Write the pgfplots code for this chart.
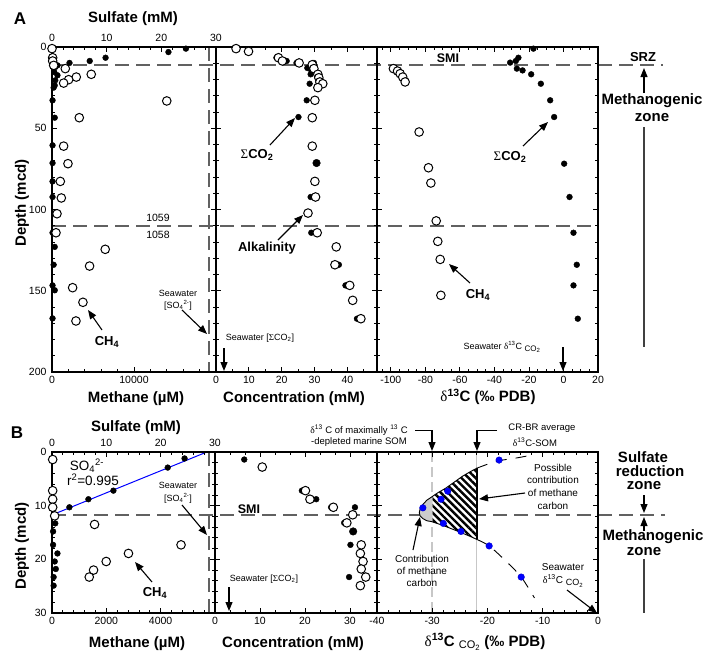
\documentclass[border=0pt]{standalone}
\usepackage{pgfplots}
\pgfplotsset{compat=1.18}
\usepackage{fontspec}
\setmainfont{Liberation Sans}
\newfontfamily\serif{Liberation Serif}
\usetikzlibrary{arrows.meta,patterns.meta}
\definecolor{dgray}{gray}{0.38}
\definecolor{lgray}{gray}{0.78}
\definecolor{tipgray}{gray}{0.8}
\definecolor{pblue}{RGB}{0,0,255}
\newcommand\fL{\fontsize{15}{17}\selectfont\bfseries}
\newcommand\fM{\fontsize{13}{15}\selectfont\bfseries}
\newcommand\fS{\fontsize{9}{10.5}\selectfont}
\newcommand\fA{\fontsize{10}{12.7}\selectfont}
\newcommand\cosub[1]{\raisebox{-2.5pt}{\fontsize{#1}{#1}\selectfont CO\textsubscript{2}}}
\pgfplotsset{
  base/.style={scale only axis, clip=false, y dir=reverse, axis on top,
    anchor=north west, tick align=inside, scaled x ticks=false, scaled y ticks=false,
    axis line style={line width=1.1pt},
    tick style={black, line width=0.8pt},
    major tick length=5pt, minor tick length=3pt,
    tick label style={font=\fontsize{10.5}{12}\selectfont},
    xtick pos=both, ytick pos=both, yticklabels={}},
  Aax/.style={height=325pt, ymin=0, ymax=200, ytick={0,50,100,150,200}, minor y tick num=4},
  Bax/.style={height=161pt, ymin=0, ymax=30, ytick={0,10,20,30}, minor y tick num=4},
  fdot/.style={only marks, mark=*, mark size=2.9pt, black},
  odot/.style={only marks, mark=*, mark size=4.3pt, mark options={fill=white, draw=black, line width=1pt}},
  bdot/.style={only marks, mark=*, mark size=3.3pt, mark options={fill=pblue, draw=pblue!80!black, line width=0.4pt}},
}
\tikzset{arr/.style={line width=1.1pt, -{Triangle[length=9pt,width=7pt]}},
  dl/.style={dgray, line width=2pt, dash pattern=on 14pt off 7pt}}
\begin{document}
\begin{tikzpicture}
\useasboundingbox (0,0) rectangle (705pt,-667pt);
% reference dashed lines
\draw[dl] (52pt,-64.5pt) -- (663pt,-64.5pt);
\draw[dl] (52pt,-226pt) -- (598pt,-226pt);
\draw[dl] (209.4pt,-47pt) -- (209.4pt,-372pt);
\draw[dl] (52pt,-515pt) -- (665pt,-515pt);
\draw[dl] (208.5pt,-452pt) -- (208.5pt,-613pt);

% ================= PANEL A =================
\begin{axis}[base, Aax, at={(52pt,-47pt)}, width=164pt,
  xmin=0, xmax=30, xtick={0,10,20,30}, xticklabels={0,10,20,30}, minor x tick num=4,
  xtick pos=right, xticklabel pos=right, xticklabel style={yshift=2pt},
  yticklabels={0,50,100,150,200}, yticklabel style={xshift=-2pt}]
\addplot[fdot] coordinates {(24.5,1.0) (21.3,3.1) (9.8,6.6) (6.9,8.6) (3.2,9.8) (1.0,11.3) (0.6,12.3) (0.4,15.4) (1.0,17.4) (0.6,20.5) (0.5,23.6) (0.3,25.0) (0.1,32.8) (0.5,43.5) (0.1,60.5) (0.1,71.4) (0.1,82.7) (0.1,92.3) (0.1,114.3) (0.5,123) (0.3,134) (0.1,146.7) (0.5,149.7) (0.1,167)};
\end{axis}
\begin{axis}[base, Aax, at={(52pt,-47pt)}, width=164pt, ytick=\empty,
  xmin=0, xmax=20000, xtick={0,10000,20000}, xticklabels={0,10000,}, minor x tick num=4,
  xtick pos=left, xticklabel style={yshift=-1pt}]
\addplot[odot] coordinates {(0,1.0) (81,6.6) (81,8.6) (203,11.3) (1623,13.3) (4787,16.8) (2962,18.5) (2029,20.1) (1420,22.2) (13997,33.2) (3327,43.5) (1420,61) (1947,71.8) (1014,82.7) (1136,92.9) (609,102.6) (487,114.3) (6491,124.5) (4584,134.8) (2515,148.1) (3773,157.1) (2921,168.6)};
\end{axis}
\begin{axis}[base, Aax, at={(216pt,-47pt)}, width=161pt,
  xmin=0, xmax=49, xtick={0,10,20,30,40}, xticklabels={0,10,20,30,40}, minor xtick={5,15,25,35,45},
  xticklabel style={yshift=-1pt}]
\addplot[fdot] coordinates {(5.9,1.0) (18.4,6.6) (21.5,8.6) (24.5,9.8) (29.8,9.8) (27.8,12.9) (29.0,14.4) (30.0,13.7) (28.8,16.8) (28.5,22.6) (27.6,32.8) (25.1,43.1) (28.8,92.3) (29.0,114.3) (37.4,134) (39.4,146.7) (42.9,167.2)};
\addplot[fdot, mark size=3.8pt] coordinates {(30.6,71.4)};
\addplot[odot] coordinates {(6.1,1.0) (9.9,2.7) (19.0,6.6) (20.2,8.6) (25.3,9.8) (29.3,10.9) (29.8,13.3) (31.0,16.8) (31.3,18.9) (31.6,21.5) (32.5,22.6) (31.0,25.0) (30.1,32.8) (29.3,43.5) (29.3,61.0) (30.1,82.7) (30.3,92.3) (28.0,102.2) (30.8,114.3) (36.6,123) (36.2,134) (40.7,146.7) (41.6,155.9) (44.1,167.2)};
\end{axis}
\begin{axis}[base, Aax, at={(377pt,-47pt)}, width=221pt,
  xmin=-108, xmax=20, xtick={-100,-80,-60,-40,-20,0,20}, xticklabels={-100,-80,-60,-40,-20,0,20},
  minor xtick={-105,-95,-90,-85,-75,-70,-65,-55,-50,-45,-35,-30,-25,-15,-10,-5,5,10,15},
  xticklabel style={yshift=-1pt}]
\addplot[odot] coordinates {(-98.5,13.3) (-96.1,14.8) (-94.6,16.4) (-93.1,18.5) (-91.7,21.5) (-83.6,52.3) (-78.2,74.3) (-76.8,83.7) (-73.7,107) (-72.8,119.6) (-71.4,130.7) (-71.0,152.8)};
\addplot[fdot] coordinates {(-17.4,1.0) (-30.9,9.6) (-27.6,8.6) (-26.1,6.6) (-27.0,13.3) (-23.7,14.4) (-18.7,16.8) (-13.1,22.6) (-7.7,32.8) (-5.4,43.1) (0.4,71.8) (3.5,92.3) (5.8,114.3) (7.7,134) (5.8,146.7) (8.3,167.2)};
\end{axis}

% ================= PANEL B =================
\begin{axis}[base, Bax, at={(52pt,-452pt)}, width=163pt,
  xmin=0, xmax=30, xtick={0,10,20,30}, xticklabels={0,10,20,30}, minor x tick num=4,
  xtick pos=right, xticklabel pos=right, xticklabel style={yshift=2pt},
  yticklabels={0,10,20,30}, yticklabel style={xshift=-2pt}]
\addplot[pblue, line width=1pt] coordinates {(0.3,11.6) (28.5,0)};
\addplot[fdot] coordinates {(24.4,1.2) (21.3,2.9) (11.3,7.2) (6.7,8.8) (3.2,10.3) (0.6,13.3) (0.2,14.8) (0.2,17.3) (1.0,18.9) (0.5,20.4) (0.7,21.8) (0.3,23.3) (0.3,24.9)};
\end{axis}
\begin{axis}[base, Bax, at={(52pt,-452pt)}, width=163pt, ytick=\empty,
  xmin=0, xmax=6000, xtick={0,2000,4000,6000}, xticklabels={0,2000,4000,}, minor x tick num=4,
  xtick pos=left, xticklabel style={yshift=-1pt}]
\addplot[odot] coordinates {(25,1.4) (25,7.2) (25,8.8) (25,10.3) (98,11.9) (1567,13.5) (4750,17.3) (2815,18.9) (1995,20.4) (1530,22.0) (1371,23.3)};
\end{axis}
\begin{axis}[base, Bax, at={(215pt,-452pt)}, width=162pt,
  xmin=0, xmax=36, xtick={0,10,20,30}, xticklabels={0,10,20,30},
  minor xtick={3.33,6.67,13.33,16.67,23.33,26.67,33.33}, xticklabel style={yshift=-1pt}]
\addplot[fdot] coordinates {(6.5,1.4) (19.3,7.2) (22.5,8.8) (25.8,10.3) (31.1,10.3) (28.7,13.2) (30.1,17.3) (29.8,23.3)};
\addplot[fdot, mark size=3.8pt] coordinates {(30.7,14.8)};
\addplot[odot] coordinates {(10.5,2.8) (20.1,7.2) (21.1,8.8) (26.3,10.3) (30.6,11.7) (29.3,13.2) (32.5,17.3) (32.3,18.9) (32.9,20.4) (32.5,21.8) (33.5,23.3) (32.3,24.9)};
\end{axis}
\begin{axis}[base, Bax, at={(377pt,-452pt)}, width=221pt,
  xmin=-40, xmax=0, xtick={-40,-30,-20,-10,0}, xticklabels={-40,-30,-20,-10,0}, minor x tick num=4,
  xticklabel style={yshift=-1pt}]
\draw[lgray, line width=1.8pt, dash pattern=on 10pt off 5pt] (axis cs:-30,0) -- (axis cs:-30,30);
\draw[lgray, line width=1.8pt] (axis cs:-22,0) -- (axis cs:-22,30);
\addplot[draw=none, fill=white] coordinates {(-21.9,3.0) (-23,3.6) (-24.5,4.5) (-26,5.6) (-27.5,6.7) (-29,7.6) (-30,8.3) (-30,13.0) (-29,13.35) (-28,13.7) (-26.4,14.35) (-24.8,15.0) (-23.3,15.65) (-21.9,16.3)} -- cycle;
\addplot[draw=none, pattern={Lines[angle=-45,distance=5pt,line width=2.4pt]}, pattern color=black] coordinates {(-21.9,3.0) (-23,3.6) (-24.5,4.5) (-26,5.6) (-27.5,6.7) (-29,7.6) (-30,8.3) (-30,13.0) (-29,13.35) (-28,13.7) (-26.4,14.35) (-24.8,15.0) (-23.3,15.65) (-21.9,16.3)} -- cycle;
\addplot[draw=none, fill=tipgray] coordinates {(-30,8.3) (-31,9.0) (-31.8,9.9) (-32.2,10.6) (-32.35,11.3) (-32.2,11.9) (-31.7,12.4) (-31,12.8) (-30,13.0)} -- cycle;
\addplot[black, line width=0.9pt, line join=round] coordinates {(-21.9,3.0) (-23,3.6) (-24.5,4.5) (-26,5.6) (-27.5,6.7) (-29,7.6) (-30,8.3) (-31,9.0) (-31.8,9.9) (-32.2,10.6) (-32.35,11.3) (-32.2,11.9) (-31.7,12.4) (-31,12.8) (-30,13.0) (-29,13.35) (-28,13.7) (-26.4,14.35) (-24.8,15.0) (-23.3,15.65) (-21.9,16.3)};
\addplot[black, line width=1.6pt] coordinates {(-21.9,3.0) (-21.9,16.3)};
\addplot[black, line width=0.9pt, dash pattern=on 11pt off 9pt, smooth] coordinates {(-21.9,3.0) (-19.5,2.1) (-17.5,1.55) (-14.7,1.1) (-11.8,0.55)};
\addplot[black, line width=0.9pt, dash pattern=on 11pt off 9pt, smooth] coordinates {(-21.9,16.3) (-19.7,17.5) (-16.8,20.2) (-13.9,23.3) (-11.5,27.2)};
\addplot[bdot] coordinates {(-17.9,1.5) (-27.2,7.3) (-28.4,8.8) (-31.7,10.4) (-28.0,13.3) (-24.8,14.8) (-19.7,17.5) (-13.9,23.3)};
\end{axis}

% ================= LABELS A =================
\node[font=\fontsize{17}{19}\selectfont\bfseries] at (20pt,-19pt) {A};
\node[font=\fL] at (133pt,-19pt) {Sulfate (mM)};
\node[font=\fL, rotate=90] at (22pt,-203pt) {Depth (mcd)};
\node[font=\fL] at (136pt,-399pt) {Methane (µM)};
\node[font=\fL] at (294pt,-399pt) {Concentration (mM)};
\node[font=\fL] at (488pt,-397pt) {{\serif\mdseries δ}\textsuperscript{13}C (‰ PDB)};
\node[font=\fontsize{10.5}{12}\selectfont] at (158pt,-218pt) {1059};
\node[font=\fontsize{10.5}{12}\selectfont] at (158pt,-235pt) {1058};
\node[font=\fS] at (178pt,-293pt) {Seawater};
\node[font=\fS] at (178pt,-305pt) {[SO\textsubscript{4}\textsuperscript{2-}]};
\draw[arr] (182pt,-310pt) -- (207pt,-334pt);
\node[font=\fM] at (107pt,-342pt) {CH\textsubscript{4}};
\draw[arr] (102pt,-330pt) -- (88pt,-310pt);
\node[font=\fM] at (257pt,-155pt) {{\serif\mdseries Σ}CO\textsubscript{2}};
\draw[arr] (270pt,-145pt) -- (295pt,-118pt);
\node[font=\fM] at (267pt,-248pt) {Alkalinity};
\draw[arr] (278pt,-240pt) -- (303pt,-215pt);
\node[font=\fS] at (260pt,-338pt) {Seawater [{\serif Σ}CO\textsubscript{2}]};
\draw[arr] (224pt,-348pt) -- (224pt,-371pt);
\node[font=\fontsize{12.5}{14}\selectfont\bfseries] at (448pt,-58pt) {SMI};
\node[font=\fM] at (510pt,-157pt) {{\serif\mdseries Σ}CO\textsubscript{2}};
\draw[arr] (523pt,-146pt) -- (548pt,-122pt);
\node[font=\fM] at (478pt,-295pt) {CH\textsubscript{4}};
\draw[arr] (470pt,-283pt) -- (449pt,-264pt);
\node[font=\fS] at (502pt,-347pt) {Seawater {\serif δ}\textsuperscript{13}C \cosub{8}};
\draw[arr] (563pt,-347pt) -- (563pt,-371pt);
\node[font=\fM] at (643pt,-57pt) {SRZ};
\draw[arr] (644pt,-93pt) -- (644pt,-68pt);
\node[font=\fL] at (652pt,-101pt) {Methanogenic};
\node[font=\fL] at (652pt,-118pt) {zone};
\draw[black!75, line width=1.3pt] (644pt,-127pt) -- (644pt,-347pt);

% ================= LABELS B =================
\node[font=\fontsize{17}{19}\selectfont\bfseries] at (17pt,-433pt) {B};
\node[font=\fL] at (136pt,-428pt) {Sulfate (mM)};
\node[font=\fL, rotate=90] at (22pt,-546pt) {Depth (mcd)};
\node[font=\fL] at (137pt,-644pt) {Methane (µM)};
\node[font=\fL] at (293pt,-644pt) {Concentration (mM)};
\node[font=\fL] at (485pt,-642pt) {{\serif\mdseries δ}\textsuperscript{13}C {\mdseries\cosub{11}} (‰ PDB)};
\node[font=\fontsize{13.5}{15}\selectfont] at (87pt,-466pt) {SO\textsubscript{4}\textsuperscript{2-}};
\node[font=\fontsize{13.5}{15}\selectfont] at (93pt,-480pt) {r\textsuperscript{2}=0.995};
\node[font=\fS] at (178pt,-485pt) {Seawater};
\node[font=\fS] at (178pt,-498pt) {[SO\textsubscript{4}\textsuperscript{2-}]};
\draw[arr] (182pt,-505pt) -- (207pt,-535pt);
\node[font=\fM] at (155pt,-593pt) {CH\textsubscript{4}};
\draw[arr] (152pt,-582pt) -- (135pt,-562pt);
\node[font=\fontsize{12.5}{14}\selectfont\bfseries] at (249pt,-509pt) {SMI};
\node[font=\fS] at (264pt,-579pt) {Seawater [{\serif Σ}CO\textsubscript{2}]};
\draw[arr] (229pt,-587pt) -- (229pt,-611pt);
\node[font=\fontsize{9.5}{11}\selectfont] at (359pt,-430pt) {{\serif δ}\textsuperscript{13} C of maximally \textsuperscript{13} C};
\node[font=\fontsize{9.5}{11}\selectfont] at (359pt,-442pt) {-depleted marine SOM};
\draw[line width=1pt] (415pt,-430pt) -- (432pt,-430pt);
\draw[arr] (432pt,-430pt) -- (432pt,-451pt);
\node[font=\fontsize{9.5}{11}\selectfont] at (542pt,-428pt) {CR-BR average};
\node[font=\fontsize{9.5}{11}\selectfont] at (535pt,-442pt) {{\serif δ}\textsuperscript{13}C-SOM};
\draw[line width=1pt] (497pt,-430pt) -- (477pt,-430pt);
\draw[arr] (477pt,-430pt) -- (477pt,-451pt);
\node[font=\fA] at (553pt,-468pt) {Possible};
\node[font=\fA] at (553pt,-480pt) {contribution};
\node[font=\fA] at (553pt,-493pt) {of methane};
\node[font=\fA] at (553pt,-506pt) {carbon};
\draw[arr] (525pt,-493pt) -- (479pt,-499pt);
\node[font=\fA] at (422pt,-559pt) {Contribution};
\node[font=\fA] at (422pt,-571pt) {of methane};
\node[font=\fA] at (422pt,-583pt) {carbon};
\draw[arr] (413pt,-550pt) -- (420pt,-517pt);
\node[font=\fA] at (563pt,-567pt) {Seawater};
\node[font=\fA] at (563pt,-581pt) {{\serif δ}\textsuperscript{13}C \cosub{9}};
\draw[arr] (567pt,-590pt) -- (597pt,-613pt);
\node[font=\fL] at (643pt,-457pt) {Sulfate};
\node[font=\fL] at (650pt,-471pt) {reduction};
\node[font=\fL] at (644pt,-486pt) {zone};
\draw[arr] (644pt,-495pt) -- (644pt,-513pt);
\draw[arr] (644pt,-531pt) -- (644pt,-517pt);
\node[font=\fL] at (653pt,-537pt) {Methanogenic};
\node[font=\fL] at (644pt,-552pt) {zone};
\draw[black!75, line width=1.3pt] (644pt,-559pt) -- (644pt,-613pt);
\end{tikzpicture}
\end{document}
